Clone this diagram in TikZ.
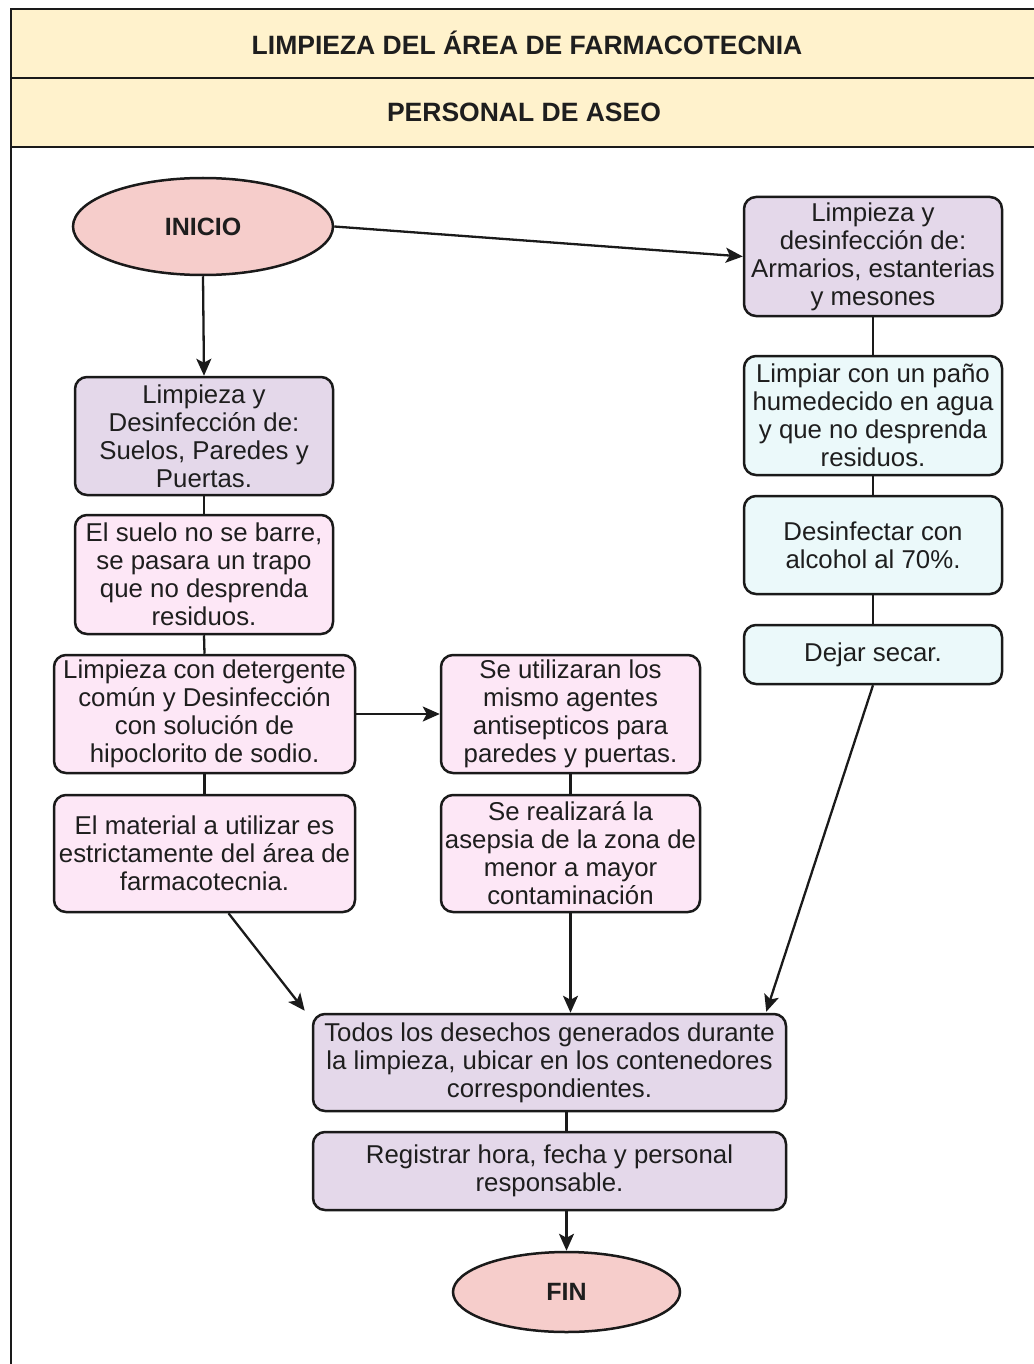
\documentclass[tikz,border=0pt]{standalone}
\usepackage{fontspec}
\setmainfont{Liberation Sans}
\usetikzlibrary{arrows.meta,shapes.geometric,calc}

\definecolor{bandfill}{HTML}{FFF2CC}
\definecolor{purplefill}{HTML}{E4D8EA}
\definecolor{pinkfill}{HTML}{FDE7F6}
\definecolor{cyanfill}{HTML}{EBF9FA}
\definecolor{redfill}{HTML}{F6CDCB}
\definecolor{inkline}{HTML}{1A1A1A}
\definecolor{inktext}{HTML}{1E1E1E}

\tikzset{
  procbox/.style={draw=inkline, line width=2.5pt, rounded corners=12pt,
    align=center, inner sep=0pt, text=inktext,
    font=\fontsize{25.8}{28}\selectfont},
  purplebox/.style={procbox, fill=purplefill},
  pinkbox/.style={procbox, fill=pinkfill},
  cyanbox/.style={procbox, fill=cyanfill},
  terminal/.style={ellipse, draw=inkline, line width=2.5pt, fill=redfill,
    inner sep=0pt, text=inktext, font=\fontsize{25}{28}\selectfont\bfseries},
  link/.style={draw=inkline, line width=2.3pt},
  arrowlink/.style={link, -{Stealth[length=17pt,width=15pt,inset=4pt]}},
  bandtext/.style={text=inktext, font=\fontsize{26.5}{28}\selectfont\bfseries}
}

\begin{document}
\begin{tikzpicture}[x=1pt,y=-1pt]
  \useasboundingbox (0,0) rectangle (1033,1364);

  % outer frame and header bands
  \fill[white] (0,0) rectangle (1033,1364);
  \fill[bandfill] (11,9) rectangle (1040,78);
  \fill[bandfill] (11,78) rectangle (1040,147);
  \draw[inkline, line width=2.6pt] (1040,9) -- (11,9) -- (11,1370);
  \draw[inkline, line width=2.6pt] (11,78) -- (1040,78);
  \draw[inkline, line width=2.6pt] (11,147) -- (1040,147);
  \node[bandtext] (title) at (527,43) {LIMPIEZA DEL ÁREA DE FARMACOTECNIA};
  \node[bandtext] (role) at (524,112) {PERSONAL DE ASEO};

  % start and end
  \node[terminal, minimum width=260pt, minimum height=97pt] (ini) at (203,226.5) {INICIO};
  \node[terminal, minimum width=227pt, minimum height=80pt] (fin) at (566.5,1292) {FIN};

  % left column
  \node[purplebox, minimum width=258pt, minimum height=118pt] (A) at (204,436)
    {Limpieza y\\Desinfección de:\\Suelos, Paredes y\\Puertas.};
  \node[pinkbox, minimum width=258pt, minimum height=119pt] (B) at (204,574.5)
    {El suelo no se barre,\\se pasara un trapo\\que no desprenda\\residuos.};
  \node[pinkbox, minimum width=301pt, minimum height=118pt] (C) at (204.5,714)
    {Limpieza con detergente\\común y Desinfección\\con solución de\\hipoclorito de sodio.};
  \node[pinkbox, minimum width=301pt, minimum height=117pt] (D) at (204.5,853.5)
    {El material a utilizar es\\estrictamente del área de\\farmacotecnia.};

  % middle column
  \node[pinkbox, minimum width=259pt, minimum height=118pt] (E) at (570.5,714)
    {Se utilizaran los\\mismo agentes\\antisepticos para\\paredes y puertas.};
  \node[pinkbox, minimum width=259pt, minimum height=117pt] (F) at (570.5,853.5)
    {Se realizará la\\asepsia de la zona de\\menor a mayor\\contaminación};

  % right column
  \node[purplebox, minimum width=258pt, minimum height=119pt] (R1) at (873,256.5)
    {Limpieza y\\desinfección de:\\Armarios, estanterias\\y mesones};
  \node[cyanbox, minimum width=258pt, minimum height=119pt] (R2) at (873,415.5)
    {Limpiar con un paño\\humedecido en agua\\y que no desprenda\\residuos.};
  \node[cyanbox, minimum width=258pt, minimum height=98pt] (R3) at (873,545)
    {Desinfectar con\\alcohol al 70\%.};
  \node[cyanbox, minimum width=258pt, minimum height=59pt] (R4) at (873,654.5)
    {Dejar secar.};

  % closing steps
  \node[purplebox, minimum width=473pt, minimum height=97pt] (G) at (549.5,1062.5)
    {Todos los desechos generados durante\\la limpieza, ubicar en los contenedores\\correspondientes.};
  \node[purplebox, minimum width=473pt, minimum height=78pt] (H) at (549.5,1171)
    {Registrar hora, fecha y personal\\responsable.};

  % connectors
  \draw[arrowlink] (ini.east) -- (R1.west);
  \draw[arrowlink] (ini.south) -- (A.north);
  \draw[link] (A.south) -- (B.north);
  \draw[link] (B.south) -- (C.north);
  \draw[link] (C.south) -- (D.north);
  \draw[arrowlink] (C.east) -- (E.west);
  \draw[link] (E.south) -- (F.north);
  \draw[link] (R1.south) -- (R2.north);
  \draw[link] (R2.south) -- (R3.north);
  \draw[link] (R3.south) -- (R4.north);
  \draw[arrowlink] ($(D.south)+(24,0)$) -- ($(G.north west)+(-7,-2)$);
  \draw[arrowlink] (F.south) -- (F.south |- G.north);
  \draw[arrowlink] (R4.south) -- ($(G.north east)+(-21,-1)$);
  \draw[link] (G.south -| fin.north) -- (H.north -| fin.north);
  \draw[arrowlink] (H.south -| fin.north) -- (fin.north);
\end{tikzpicture}
\end{document}
